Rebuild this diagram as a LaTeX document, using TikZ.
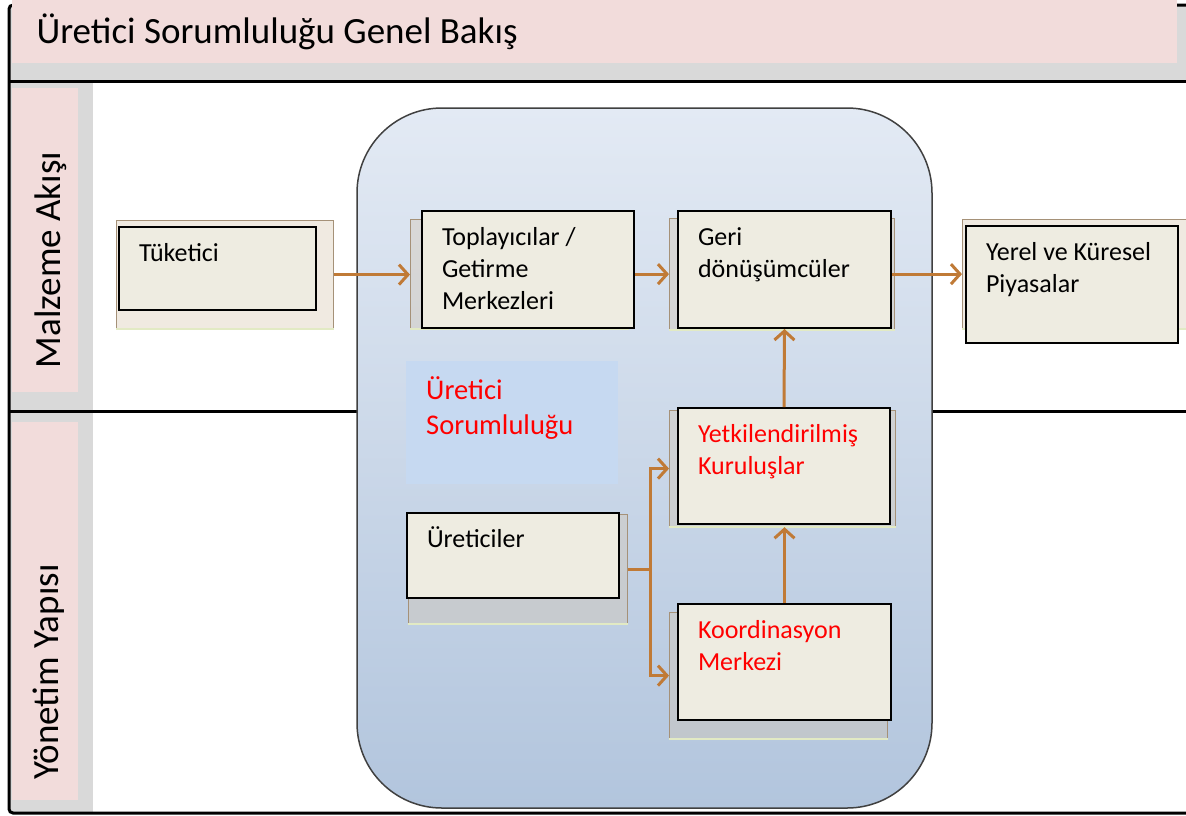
\documentclass[tikz,border=0pt]{standalone}
\usepackage{fontspec}
\setmainfont{Carlito}
\usetikzlibrary{arrows.meta}
\definecolor{titlepink}{RGB}{242,220,219}
\definecolor{lanegrey}{RGB}{217,217,217}
\definecolor{boxfill}{RGB}{238,236,225}
\definecolor{labelblue}{RGB}{198,217,241}
\definecolor{flowbrown}{RGB}{192,122,54}
\definecolor{shadowline}{RGB}{165,145,120}
\definecolor{shadowfill}{RGB}{214,196,170}
\definecolor{shadowbase}{RGB}{226,234,196}
\definecolor{regiontop}{RGB}{227,234,244}
\definecolor{regionmid}{RGB}{206,218,234}
\definecolor{regionbot}{RGB}{178,197,221}
\definecolor{regionline}{RGB}{64,64,64}
\newcommand{\boxtext}[3]{\parbox[c][#2][t]{#1}{\leftskip=20pt\rule{0pt}{34pt}#3}}
\tikzset{
  box/.style={draw, line width=2pt, fill=boxfill, inner sep=0pt, anchor=north west,
    font=\fontsize{26}{32}\selectfont},
  shadowbox/.style={draw=shadowline, line width=1.2pt, fill=shadowfill, fill opacity=0.35,
    inner sep=0pt, anchor=north west},
  shadowedge/.style={draw=shadowbase, line width=2pt},
  flow/.style={draw=flowbrown, line width=3pt, -{Straight Barb[length=9pt,width=20pt]}},
  lane/.style={font=\fontsize{37}{40}\selectfont, rotate=90, anchor=base},
}
\begin{document}
\begin{tikzpicture}[x=1pt,y=-1pt]
    \useasboundingbox (0,0) rectangle (1186,815);
    \fill[white] (0,0) rectangle (1186,815);
    % header and lane columns
    \fill[lanegrey] (9,5) rectangle (1186,81);
    \fill[lanegrey] (9,81) rectangle (93,813);
    \draw[line width=3pt, rounded corners=4pt] (1186,5) -- (9,5) -- (9,813) -- (1186,813);
    \draw[line width=3pt] (9,81) -- (1186,81);
    \draw[line width=3pt] (9,411) -- (1186,411);
    \fill[titlepink] (12,0) rectangle (1177,63);
    \fill[titlepink] (12,88) rectangle (78,392);
    \fill[titlepink] (12,422) rectangle (78,800);
    \node[anchor=base west, font=\fontsize{37}{40}\selectfont] (title) at (33,43) {Üretici Sorumluluğu Genel Bakış};
    \node[lane] (flowlane) at (60,260) {Malzeme Akışı};
    \node[lane] (govlane) at (58,672) {Yönetim Yapısı};
    % producer responsibility region
    \draw[draw=regionline, line width=1.5pt, rounded corners=85pt, top color=regiontop,
      middle color=regionmid, bottom color=regionbot] (357,108) rectangle (932,808);
    \node[fill=labelblue, inner sep=0pt, anchor=north west, text=red, font=\fontsize{28.5}{35}\selectfont]
      (epr) at (406,361) {\parbox[c][123pt][t]{212pt}{\leftskip=20pt\rule{0pt}{38pt}Üretici\\Sorumluluğu}};
    % shadows
    \node[shadowbox, minimum width=217pt, minimum height=108pt] (tuketici-sh) at (116,220) {};
    \node[shadowbox, minimum width=218pt, minimum height=109pt] (toplayici-sh) at (410,219) {};
    \node[shadowbox, minimum width=225pt, minimum height=111pt] (geri-sh) at (669,218) {};
    \node[shadowbox, minimum width=228pt, minimum height=109pt] (pazar-sh) at (962,219) {};
    \node[shadowbox, minimum width=226pt, minimum height=116pt] (yetkili-sh) at (669,410) {};
    \node[shadowbox, minimum width=219pt, minimum height=109pt] (uretici-sh) at (408,514) {};
    \node[shadowbox, minimum width=218pt, minimum height=126pt] (koord-sh) at (669,612) {};
    \foreach \s in {tuketici,toplayici,geri,pazar,yetkili,uretici,koord}
      \draw[shadowedge] (\s-sh.south west) -- (\s-sh.south east);
    % boxes
    \node[box] (tuketici) at (118,226) {\boxtext{197pt}{83pt}{Tüketici}};
    \node[box] (toplayici) at (421,210) {\boxtext{212pt}{117pt}{Toplayıcılar /\\Getirme\\Merkezleri}};
    \node[box] (geri) at (677,210) {\boxtext{213pt}{117pt}{Geri\\dönüşümcüler}};
    \node[box] (pazar) at (965,225) {\boxtext{212pt}{117pt}{Yerel ve Küresel\\Piyasalar}};
    \node[box, text=red] (yetkili) at (677,407) {\boxtext{212pt}{116pt}{Yetkilendirilmiş\\Kuruluşlar}};
    \node[box] (uretici) at (406,512) {\boxtext{212pt}{85pt}{Üreticiler}};
    \node[box, text=red] (koord) at (677,603) {\boxtext{213pt}{116pt}{Koordinasyon\\Merkezi}};
    % flows
    \draw[flow] (tuketici-sh.east) -- (tuketici-sh.east -| toplayici-sh.west);
    \draw[flow] (geri-sh.west -| toplayici.east) -- (geri-sh.west);
    \draw[flow] (pazar-sh.west -| geri.east) -- (pazar-sh.west);
    \draw[flow] (yetkili.north) -- (geri.south);
    \draw[flow] (koord.north) -- (koord.north |- yetkili-sh.south);
    \coordinate (fork) at ([xshift=22pt]uretici-sh.east);
    \draw[flow, -] (uretici-sh.east) -- (fork);
    \draw[flow] (fork) |- (yetkili-sh.west);
    \draw[flow] (fork) |- (koord-sh.west);
\end{tikzpicture}
\end{document}
